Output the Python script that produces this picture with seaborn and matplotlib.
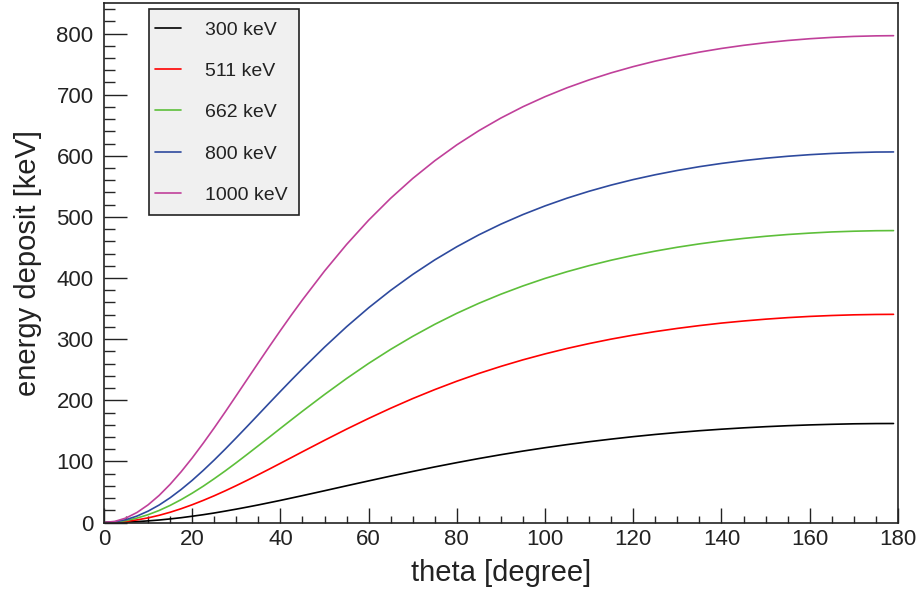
import matplotlib
matplotlib.use("Agg")
import matplotlib.pyplot as plt
from matplotlib.ticker import MultipleLocator
from matplotlib.patches import Rectangle
import seaborn as sns
import pandas as pd

theta = [0, 2.5, 5, 7.5, 10, 12.5, 15, 17.5, 20, 22.5, 25, 27.5, 30, 32.5, 35, 37.5,
         40, 42.5, 45, 50, 55, 60, 65, 70, 75, 80, 85, 90,
         95, 100, 105, 110, 115, 120, 125, 130, 135, 140, 145, 150, 155, 160, 165,
         170, 175, 179]

e300 = [0, 0.2, 0.7, 1.5, 2.7, 4.1, 5.9, 7.9, 10.3, 12.8, 15.6, 18.7, 21.9, 25.3, 28.8,
        32.5, 36.2, 40.1, 44.0, 52.0, 60.1, 68.1, 76.0,
        83.6, 91.0, 98.0, 104.7, 111.0, 116.9, 122.4, 127.5, 132.2, 136.5, 140.5, 144.1,
        147.3, 150.2, 152.7, 154.9, 156.8, 158.4, 159.7, 160.7, 161.5, 161.9, 162.0]
e511 = [0, 0.5, 1.9, 4.3, 7.6, 11.8, 16.8, 22.6, 29.1, 36.2, 43.8, 51.9, 60.4, 69.2,
        78.3, 87.5, 96.9, 106.3, 115.8, 134.5, 152.8, 170.3,
        187.0, 202.8, 217.5, 231.2, 243.9, 255.5, 266.2, 275.9, 284.8, 292.8, 300.1,
        306.6, 312.4, 317.6, 322.2, 326.3, 329.7, 332.7, 335.2, 337.2, 338.7, 339.8,
        340.4, 340.6]
e662 = [0, 0.8, 3.2, 7.3, 12.8, 19.7, 28.0, 37.5, 48.0, 59.4, 71.7, 84.5, 97.9, 111.7,
        125.7, 139.8, 154.0, 168.1, 182.1, 209.4, 235.6, 260.3,
        283.3, 304.6, 324.3, 342.3, 358.7, 373.6, 387.1, 399.4, 410.4, 420.3, 429.2,
        437.1, 444.1, 450.4, 455.9, 460.7, 464.8, 468.3, 471.2, 473.5, 475.4, 476.6,
        477.4, 477.6]
e800 = [0, 1.2, 4.7, 10.6, 18.6, 28.6, 40.5, 54.1, 69.0, 85.2, 102.3, 120.2, 138.7,
        157.5, 176.5, 195.6, 214.5, 233.2, 251.5, 286.9, 320.3, 351.3,
        379.8, 405.9, 429.7, 451.2, 470.7, 488.2, 503.9, 518.0, 530.7, 542.0, 552.1,
        561.1, 569.0, 576.0, 582.2, 587.5, 592.1, 596.0, 599.2, 601.8, 603.8, 605.2,
        606.1, 606.3]
e1000 = [0, 1.9, 7.4, 16.5, 28.9, 44.3, 62.5, 83.1, 105.6, 129.7, 154.9, 181.0, 207.7,
         234.6, 261.4, 288.0, 314.1, 339.6, 364.3, 411.4, 454.9,
         494.6, 530.5, 562.9, 591.9, 617.9, 641.1, 661.8, 680.3, 696.7, 711.3, 724.2,
         735.7, 745.9, 754.9, 762.7, 769.6, 775.6, 780.7, 785.0, 788.6, 791.5, 793.7,
         795.3, 796.2, 796.5]

labels = ["300 keV", "511 keV", "662 keV", "800 keV", "1000 keV"]
colors = ["#000000", "#ff0000", "#5dbf3a", "#2e4a9e", "#c0409a"]
series = [e300, e511, e662, e800, e1000]

frames = []
for lab, vals in zip(labels, series):
    frames.append(pd.DataFrame({"theta": theta, "deposit": vals, "source": lab}))
df = pd.concat(frames, ignore_index=True)

sns.set_style("ticks")
plt.rcParams["font.family"] = ["Liberation Sans", "DejaVu Sans"]

fig = plt.figure(figsize=(9.2, 5.95), dpi=100)
ax = fig.add_axes([0.113, 0.1218, 0.863, 0.8732])

sns.lineplot(data=df, x="theta", y="deposit", hue="source", hue_order=labels,
             palette=colors, linewidth=1.2, legend=False, ax=ax, sort=False)

ax.set_xlim(0, 180)
ax.set_ylim(0, 850)
ax.xaxis.set_major_locator(MultipleLocator(20))
ax.xaxis.set_minor_locator(MultipleLocator(5))
ax.yaxis.set_major_locator(MultipleLocator(100))
ax.yaxis.set_minor_locator(MultipleLocator(20))

ax.tick_params(axis="x", which="major", direction="in", length=10.8, width=1.0,
               labelsize=16, pad=5, colors="#222222")
ax.tick_params(axis="x", which="minor", direction="in", length=5, width=1.0)
ax.tick_params(axis="y", which="major", direction="in", length=16.5, width=1.0,
               labelsize=16, pad=7.5, colors="#222222")
ax.tick_params(axis="y", which="minor", direction="in", length=8, width=1.0)
ax.tick_params(top=False, right=False, which="both")

for sp in ax.spines.values():
    sp.set_visible(True)
    sp.set_color("#222222")
    sp.set_linewidth(1.2)

ax.set_xlabel("theta [degree]", fontsize=21, color="#222222", labelpad=6)
ax.set_ylabel("energy deposit [keV]", fontsize=21, color="#222222", labelpad=10)
ax.grid(False)

# legend box
box = Rectangle((0.0567, 0.592), 0.189, 0.3965, transform=ax.transAxes,
                facecolor="#f0f0f0", edgecolor="#222222", linewidth=1.2, zorder=4)
ax.add_patch(box)

leg = ax.legend(handles=ax.get_lines(), labels=labels, loc="center left",
                bbox_to_anchor=(0.0642, 0.7892), borderaxespad=0, borderpad=0,
                fontsize=14, handlelength=1.35, handletextpad=1.2,
                labelspacing=1.22, frameon=False)
leg.set_zorder(5)
for t in leg.get_texts():
    t.set_color("#222222")

fig.savefig("out.png", dpi=100, facecolor="white")
